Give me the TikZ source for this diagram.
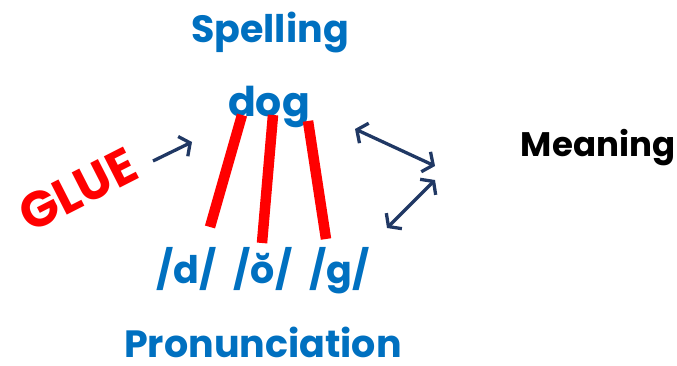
\documentclass[tikz,border=0pt]{standalone}
\usepackage{fontspec}
\setmainfont{Poppins}
\usetikzlibrary{arrows.meta}
\definecolor{tblue}{HTML}{0070C0}
\definecolor{navy}{HTML}{203864}
\tikzset{
  lbl/.style={font=\bfseries\fontsize{38}{44}\selectfont, text=tblue, inner sep=0pt, anchor=base},
  glue/.style={red, line width=10.5pt},
  arr/.style={navy, line width=3.3pt, -{Straight Barb[length=8pt,width=22pt]}},
  darr/.style={navy, line width=3.3pt, {Straight Barb[length=8pt,width=22pt]}-{Straight Barb[length=8pt,width=22pt]}}
}
\begin{document}
\begin{tikzpicture}[x=1pt,y=-1pt]
\useasboundingbox (0,0) rectangle (677,366);
\node[lbl] (spell) at (270,43) {Spelling};
\node[lbl, font=\bfseries\fontsize{41}{46}\selectfont] (dog) at (269,117) {dog};
\node[lbl] (phon) at (263,283) {/d/\hspace{9pt} /ŏ/\hspace{9pt} /g/};
\node[lbl, text depth=0pt] (pron) at (263,357) {Pronunciation};
\node[font=\bfseries\fontsize{34}{40}\selectfont, inner sep=0pt, anchor=base] (mean) at (598,157) {Meaning};
\node[font=\bfseries\fontsize{50}{56}\selectfont, text=red, rotate=27, inner sep=0pt] (gluet) at (78,190) {GLUE};
\coordinate (b1a) at (242,115); \coordinate (b1b) at (210,227);
\coordinate (b2a) at (273,115); \coordinate (b2b) at (262,243);
\coordinate (b3a) at (308,121); \coordinate (b3b) at (326,239);
\draw[glue] (b1a) -- (b1b);
\draw[glue] (b2a) -- (b2b);
\draw[glue] (b3a) -- (b3b);
\coordinate (g1) at (153,161); \coordinate (g2) at (192,142);
\draw[arr] (g1) -- (g2);
\coordinate (m1) at (355,129); \coordinate (m2) at (435,166);
\draw[darr] (m1) -- (m2);
\coordinate (p1) at (435,180); \coordinate (p2) at (387,228);
\draw[darr] (p1) -- (p2);
\end{tikzpicture}
\end{document}
